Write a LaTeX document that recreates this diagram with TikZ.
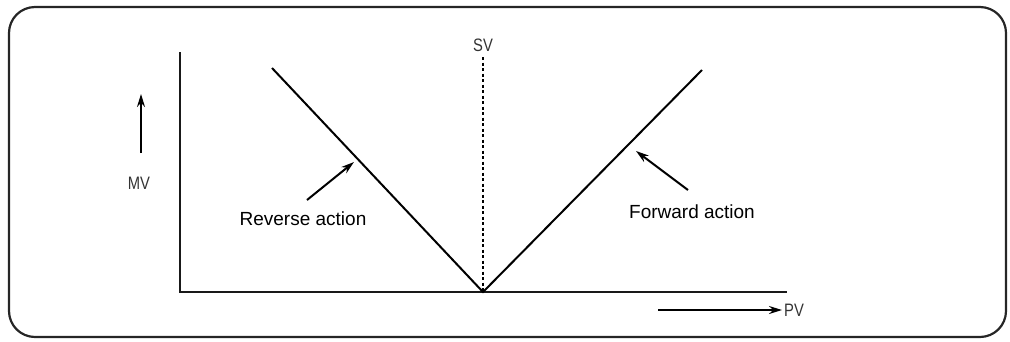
\documentclass[tikz,border=0pt]{standalone}
\usepackage{fontspec}
\setmainfont{Liberation Sans}
\usetikzlibrary{arrows.meta}
\begin{document}
\begin{tikzpicture}[x=1pt,y=-1pt,
  frame/.style={draw=black!85,line width=2.2pt,rounded corners=26pt},
  axis/.style={draw=black!90,line width=2.4pt},
  vline/.style={draw=black,line width=2pt},
  svline/.style={draw=black,line width=2.2pt,dash pattern=on 3pt off 2.5pt},
  pointer/.style={draw=black,line width=2pt,-{Stealth[length=13pt,width=8pt]}},
  lbl/.style={font=\fontsize{19}{22}\selectfont,text=black,inner sep=0pt},
  axlbl/.style={font=\fontsize{18}{22}\selectfont,text=black!80,inner sep=0pt,xscale=0.82}]
\useasboundingbox (0,0) rectangle (1010,341);
\draw[frame] (9,7) rectangle (1006,337);
% axes
\coordinate (ytop) at (180,52);
\coordinate (orig) at (180,292);
\coordinate (xend) at (787,292);
\draw[axis] (ytop) -- (orig) -- (xend);
% V lines
\coordinate (vbot) at (483,292);
\coordinate (ltop) at (272,68);
\coordinate (rtop) at (702,70);
\draw[vline] (ltop) -- (vbot) -- (rtop);
% SV
\node[axlbl] (sv) at (483,45) {SV};
\draw[svline] (sv.south |- 0,57) -- (vbot);
% MV
\coordinate (mva) at (141,153);
\coordinate (mvb) at (141,94);
\draw[pointer] (mva) -- (mvb);
\node[axlbl] (mv) at (139,183) {MV};
% PV
\coordinate (pva) at (658,310);
\coordinate (pvb) at (782,310);
\draw[pointer] (pva) -- (pvb);
\node[axlbl,anchor=west] (pv) at (784,310) {PV};
% labels
\node[lbl] (rev) at (303,219) {Reverse action};
\coordinate (reva) at (307,200);
\coordinate (revb) at (354,162);
\draw[pointer] (reva) -- (revb);
\node[lbl] (fwd) at (692,212) {Forward action};
\coordinate (fwda) at (688,190);
\coordinate (fwdb) at (636,151);
\draw[pointer] (fwda) -- (fwdb);
\end{tikzpicture}
\end{document}
